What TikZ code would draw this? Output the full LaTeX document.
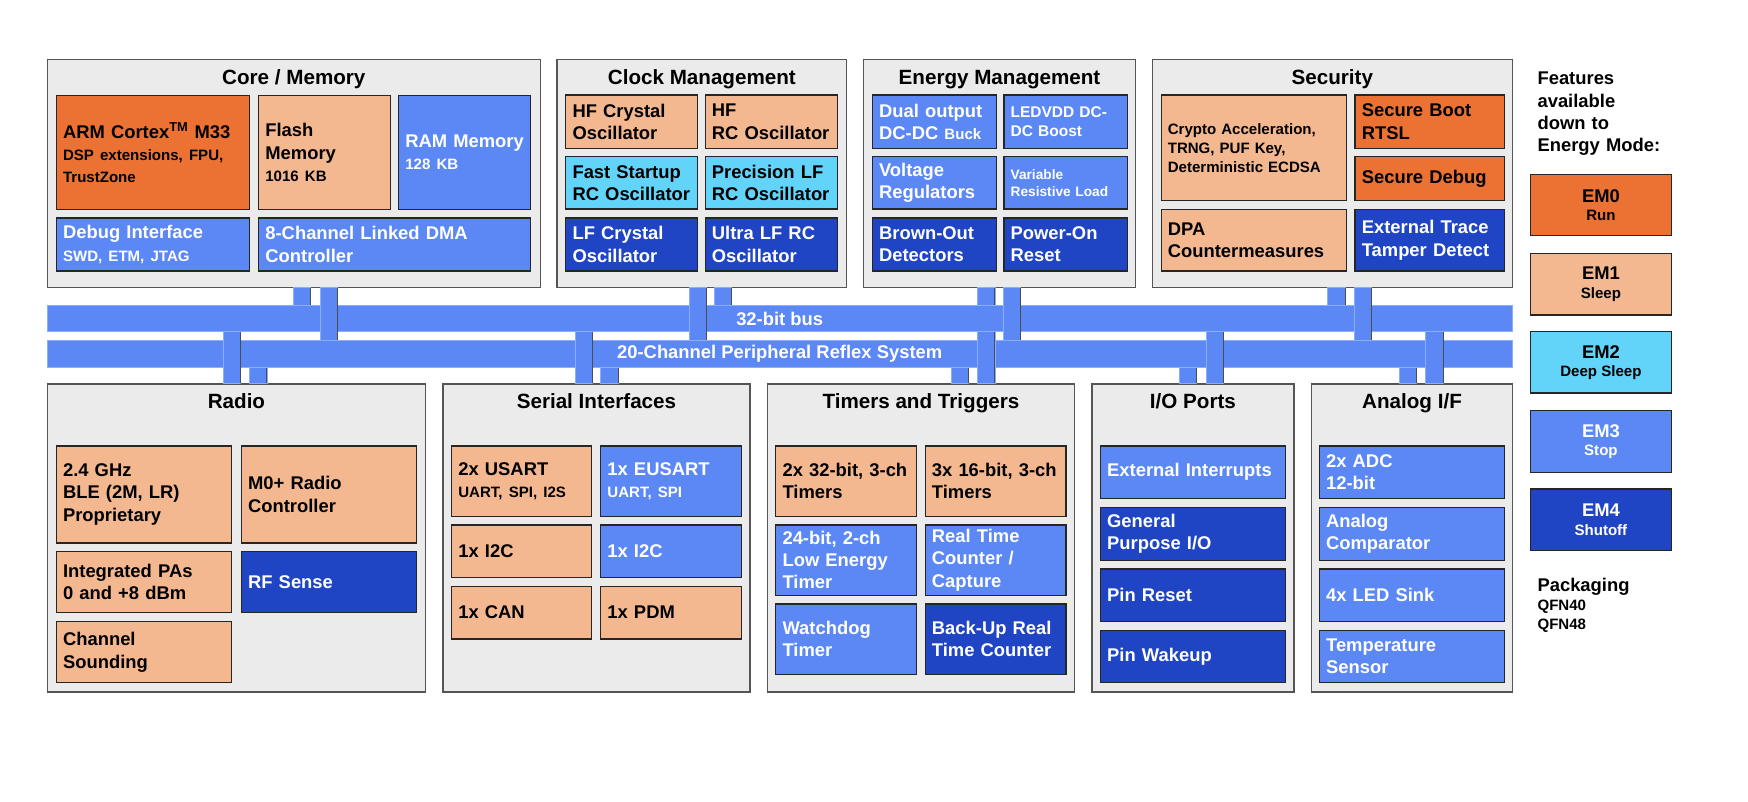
\documentclass[tikz,border=0pt]{standalone}
\usepackage{fontspec}
\setmainfont{Liberation Sans}
\usetikzlibrary{positioning}

\definecolor{emzero}{HTML}{EC7234}
\definecolor{emone}{HTML}{F4B890}
\definecolor{emtwo}{HTML}{63D4F9}
\definecolor{emthree}{HTML}{5B88F4}
\definecolor{emfour}{HTML}{1F45C4}
\definecolor{panelfill}{HTML}{EBEBEB}
\definecolor{paneledge}{HTML}{555555}
\definecolor{busedge}{HTML}{8AAEF9}

\newcommand\ttxt{\fontsize{18.5}{22}\selectfont\bfseries}
\newcommand\mtxt{\fontsize{16.5}{20}\selectfont\bfseries}
\newcommand\stxt{\fontsize{13.5}{20}\selectfont\bfseries}

\tikzset{
  panel/.style 2 args={draw=paneledge,fill=panelfill,line width=1.2pt,minimum width=#1,minimum height=#2,anchor=north west,inner sep=0pt},
  ttl/.style={font=\ttxt,anchor=base,inner sep=0pt},
  blk/.style 2 args={draw=black!85,line width=1.1pt,minimum width=#1,minimum height=#2,text width=#1-12,inner xsep=6pt,inner ysep=0pt,align=left,anchor=north west,font=\mtxt},
  legend/.style={draw=black!85,line width=1.1pt,minimum width=127,minimum height=55,anchor=north west,align=center,inner sep=0pt,font=\fontsize{16.5}{16.5}\selectfont\bfseries},
  note/.style={anchor=base west,align=left,inner sep=0pt,text width=150,font=\mtxt},
  bus/.style={fill=emthree,draw=busedge,line width=0.8pt,anchor=north west,text=white,font=\mtxt,inner sep=0pt},
  stub/.style={fill=emthree,draw=busedge,line width=0.7pt},
  stubshade/.style={draw=black!70,line width=0.9pt},
  em0/.style={fill=emzero,text=black},
  em1/.style={fill=emone,text=black},
  em2/.style={fill=emtwo,text=black},
  em3/.style={fill=emthree,text=white},
  em4/.style={fill=emfour,text=white},
}

\begin{document}
\begin{tikzpicture}[x=1pt,y=-1pt]
  \useasboundingbox (0,0) rectangle (1568,719.4);

  % core / memory
  \node[panel={442}{204}] (core) at (42,53) {};
  \node[ttl] (coreT) at ([yshift=-22.5pt]core.north) {Core / Memory};
  \node[blk={173.5}{102.5},em0] (arm) at (50,85) {ARM Cortex\textsuperscript{TM} M33\\{\stxt DSP extensions, FPU,}\\{\stxt TrustZone}};
  \node[blk={118}{102.5},em1] (flash) at (231.5,85) {Flash\\Memory\\{\stxt 1016 KB}};
  \node[blk={118.5}{102.5},em3] (ram) at (357,85) {RAM Memory\\{\stxt 128 KB}};
  \node[blk={173.5}{47.5},em3] (dbg) at (50,195) {Debug Interface\\{\stxt SWD, ETM, JTAG}};
  \node[blk={244}{47.5},em3] (dma) at (231.5,195) {8-Channel Linked DMA\\Controller};

  % clock management
  \node[panel={260}{204}] (clock) at (499,53) {};
  \node[ttl] (clockT) at ([yshift=-22.5pt]clock.north) {Clock Management};
  \node[blk={118}{48},em1] (hfxo) at (507,84.6) {HF Crystal\\Oscillator};
  \node[blk={119}{48},em1] (hfrco) at (632,84.6) {HF\\RC Oscillator};
  \node[blk={118}{47},em2] (fsrco) at (507,140) {Fast Startup\\RC Oscillator};
  \node[blk={119}{47},em2] (plfrco) at (632,140) {Precision LF\\RC Oscillator};
  \node[blk={118}{47.5},em4] (lfxo) at (507,195) {LF Crystal\\Oscillator};
  \node[blk={119}{47.5},em4] (ulfrco) at (632,195) {Ultra LF RC\\Oscillator};

  % energy management
  \node[panel={244}{204}] (energy) at (774,53) {};
  \node[ttl] (energyT) at ([yshift=-22.5pt]energy.north) {Energy Management};
  \node[blk={111}{48},em3] (dcdc) at (782,84.6) {Dual output\\DC-DC {\stxt Buck}};
  \node[blk={111}{48},em3,font=\fontsize{13.9}{17}\selectfont\bfseries] (ledvdd) at (900,84.6) {LEDVDD DC-\\DC Boost};
  \node[blk={111}{47},em3] (vreg) at (782,140) {Voltage\\Regulators};
  \node[blk={111}{47},em3,font=\fontsize{12.3}{15}\selectfont\bfseries] (vrl) at (900,140) {Variable\\Resistive Load};
  \node[blk={111}{47.5},em4] (bod) at (782,195) {Brown-Out\\Detectors};
  \node[blk={111}{47.5},em4] (por) at (900,195) {Power-On\\Reset};

  % security
  \node[panel={323}{204}] (security) at (1033,53) {};
  \node[ttl] (securityT) at ([yshift=-22.5pt]security.north) {Security};
  \node[blk={166}{95},em1,font=\fontsize{13.5}{17}\selectfont\bfseries] (crypto) at (1041,84.6) {Crypto Acceleration,\\TRNG, PUF Key,\\Deterministic ECDSA};
  \node[blk={134}{48},em0] (sboot) at (1215,84.6) {Secure Boot\\RTSL};
  \node[blk={134}{39.3},em0] (sdbg) at (1215,140) {Secure Debug};
  \node[blk={166}{55.3},em1] (dpa) at (1041,187.2) {DPA\\Countermeasures};
  \node[blk={134}{55.3},em4] (etd) at (1215,187.2) {External Trace\\Tamper Detect};

  % radio
  \node[panel={339}{276}] (radio) at (42,344) {};
  \node[ttl] (radioT) at ([yshift=-22.5pt]radio.north) {Radio};
  \node[blk={157}{87},em1] (ble) at (50,399.5) {2.4 GHz\\BLE (2M, LR)\\Proprietary};
  \node[blk={157}{87},em1] (mzero) at (216,399.5) {M0+ Radio\\Controller};
  \node[blk={157}{55},em1] (pa) at (50,494) {Integrated PAs\\0 and +8 dBm};
  \node[blk={157}{55},em4] (rfs) at (216,494) {RF Sense};
  \node[blk={157}{55},em1] (cs) at (50,557) {Channel\\Sounding};

  % serial interfaces
  \node[panel={275.5}{276}] (serial) at (396.7,344) {};
  \node[ttl] (serialT) at ([yshift=-22.5pt]serial.north) {Serial Interfaces};
  \node[blk={125.4}{63},em1] (usart) at (404.6,399.5) {2x USART\\{\stxt UART, SPI, I2S}};
  \node[blk={126}{63},em3] (eusart) at (538.3,399.5) {1x EUSART\\{\stxt UART, SPI}};
  \node[blk={125.4}{47.3},em1] (itca) at (404.6,470.3) {1x I2C};
  \node[blk={126}{47.3},em3] (itcb) at (538.3,470.3) {1x I2C};
  \node[blk={125.4}{47.2},em1] (can) at (404.6,525.4) {1x CAN};
  \node[blk={126}{47.2},em1] (pdm) at (538.3,525.4) {1x PDM};

  % timers and triggers
  \node[panel={275}{276}] (timers) at (688,344) {};
  \node[ttl] (timersT) at ([yshift=-22.5pt]timers.north) {Timers and Triggers};
  \node[blk={126.4}{63},em1] (tthirty) at (695.4,399.5) {2x 32-bit, 3-ch\\Timers};
  \node[blk={126.3}{63},em1] (tsixteen) at (829.4,399.5) {3x 16-bit, 3-ch\\Timers};
  \node[blk={126.4}{63},em3] (letimer) at (695.4,470.3) {24-bit, 2-ch\\Low Energy\\Timer};
  \node[blk={126.3}{63},em3] (rtcc) at (829.4,470.3) {Real Time\\Counter /\\Capture};
  \node[blk={126.4}{63},em3] (wdog) at (695.4,541.2) {Watchdog\\Timer};
  \node[blk={126.3}{63},em4] (burtc) at (829.4,541.2) {Back-Up Real\\Time Counter};

  % i/o ports
  \node[panel={181}{276}] (io) at (979,344) {};
  \node[ttl] (ioT) at ([yshift=-22.5pt]io.north) {I/O Ports};
  \node[blk={165.8}{47},em3] (extint) at (986.6,399.5) {External Interrupts};
  \node[blk={165.8}{47.8},em4] (gpio) at (986.6,454.5) {General\\Purpose I/O};
  \node[blk={165.8}{47},em4] (pinrst) at (986.6,509.8) {Pin Reset};
  \node[blk={165.8}{47},em4] (pinwk) at (986.6,564.8) {Pin Wakeup};

  % analog i/f
  \node[panel={180}{276}] (analog) at (1176,344) {};
  \node[ttl] (analogT) at ([yshift=-22.5pt]analog.north) {Analog I/F};
  \node[blk={166}{47},em3] (adc) at (1183,399.5) {2x ADC\\12-bit};
  \node[blk={166}{47.8},em3] (acmp) at (1183,454.5) {Analog\\Comparator};
  \node[blk={166}{47},em3] (ledsink) at (1183,509.8) {4x LED Sink};
  \node[blk={166}{47},em3] (tsense) at (1183,564.8) {Temperature\\Sensor};

  % buses
  \node[bus,minimum width=1314,minimum height=23.3] (bus32) at (42,273.6) {32-bit bus};
  \node[bus,minimum width=1314,minimum height=23.9] (prs) at (42,305) {20-Channel Peripheral Reflex System};
  \foreach \bx/\sx in {core/263,clock/641,energy/877,security/1191}{
    \draw[stub] (\sx,0 |- \bx.south) rectangle (\sx+15.5,0 |- bus32.north);
    \draw[stubshade] (\sx+15.5,0 |- \bx.south) -- (\sx+15.5,0 |- bus32.north);}
  \foreach \bx/\sx in {core/287,clock/618,energy/900,security/1215}{
    \draw[stub] (\sx,0 |- \bx.south) rectangle (\sx+15.5,0 |- prs.north);
    \draw[stubshade] (\sx+15.5,0 |- \bx.south) -- (\sx+15.5,0 |- prs.north);}
  \foreach \bx/\sx in {radio/224,serial/539,timers/853,io/1058,analog/1255}{
    \draw[stub] (\sx,0 |- \bx.north) rectangle (\sx+15.5,0 |- prs.south);
    \draw[stubshade] (\sx+15.5,0 |- \bx.north) -- (\sx+15.5,0 |- prs.south);}
  \foreach \bx/\sx in {radio/200,serial/516,timers/877,io/1082,analog/1279}{
    \draw[stub] (\sx,0 |- \bx.north) rectangle (\sx+15.5,0 |- bus32.south);
    \draw[stubshade] (\sx+15.5,0 |- \bx.north) -- (\sx+15.5,0 |- bus32.south);}

  % legend
  \node[note] (feat) at (1379,76) {Features\\available\\down to\\Energy Mode:};
  \node[legend,em0] (legzero) at (1372,156) {EM0\\{\stxt Run}};
  \node[legend,em1] (legone) at (1372,227) {EM1\\{\stxt Sleep}};
  \node[legend,em2] (legtwo) at (1372,297) {EM2\\{\stxt Deep Sleep}};
  \node[legend,em3] (legthree) at (1372,368) {EM3\\{\stxt Stop}};
  \node[legend,em4] (legfour) at (1372,438) {EM4\\{\stxt Shutoff}};
  \node[note,font=\fontsize{16.5}{17}\selectfont\bfseries] (pkg) at (1379,530.6) {Packaging\\{\stxt QFN40}\\{\stxt QFN48}};
\end{tikzpicture}
\end{document}
